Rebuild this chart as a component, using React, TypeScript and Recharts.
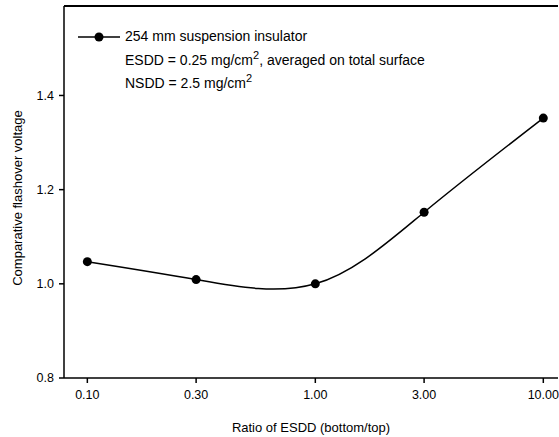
import { LineChart, Line, XAxis, YAxis, ReferenceLine } from 'recharts'

const ratios = [0.1, 0.3, 1, 3, 10]
const voltages = [1.047, 1.009, 1.0, 1.152, 1.352]
const xTicks = [0.1, 0.3, 1, 3, 10]
const yTicks = [0.8, 1.0, 1.2, 1.4]

const data = ratios.map((r, i) => ({ ratio: r, v: voltages[i] }))

const font = '"Liberation Sans", Arial, sans-serif'
const xDomain = [0.079, 11.6]
const yDomain = [0.8, 1.59]

function LegendBox() {
  return (
    <div style={{ position: 'absolute', left: 78, top: 25, fontFamily: font, fontSize: 14, color: '#000', lineHeight: '23.5px', whiteSpace: 'nowrap' }}>
      <div style={{ display: 'flex', alignItems: 'center' }}>
        <svg width={42} height={10} style={{ marginRight: 5 }}>
          <line x1={0} y1={5} x2={42} y2={5} stroke="#000" strokeWidth={1.5} />
          <circle cx={21} cy={5} r={4.5} fill="#000" />
        </svg>
        <span>254 mm suspension insulator</span>
      </div>
      <div style={{ paddingLeft: 47 }}>
        ESDD = 0.25 mg/cm<sup style={{ fontSize: 11, lineHeight: 0 }}>2</sup>, averaged on total surface
      </div>
      <div style={{ paddingLeft: 47 }}>
        NSDD = 2.5 mg/cm<sup style={{ fontSize: 11, lineHeight: 0 }}>2</sup>
      </div>
    </div>
  )
}

export default function App() {
  return (
    <div style={{ position: 'absolute', left: 0, top: 0, width: 559, height: 437, background: '#fff' }}>
      <LineChart width={559} height={437} data={data} margin={{ top: 6, right: 1, bottom: 0, left: 0 }}>
        <XAxis
          dataKey="ratio"
          type="number"
          scale="log"
          domain={xDomain}
          allowDataOverflow
          ticks={xTicks}
          tickFormatter={(t: number) => t.toFixed(2)}
          height={59}
          tickSize={5}
          tickMargin={7}
          stroke="#000"
          strokeWidth={1.5}
          tick={{ fill: '#000', fontFamily: font, fontSize: 12.5 }}
          label={{ value: 'Ratio of ESDD (bottom/top)', position: 'insideBottom', offset: 5, fill: '#000', fontFamily: font, fontSize: 13 }}
        />
        <YAxis
          type="number"
          domain={yDomain}
          allowDataOverflow
          ticks={yTicks}
          tickFormatter={(t: number) => t.toFixed(1)}
          width={64}
          tickSize={5}
          tickMargin={5}
          stroke="#000"
          strokeWidth={1.5}
          tick={{ fill: '#000', fontFamily: font, fontSize: 12.5 }}
          label={(props: any) => {
            const vb = props.viewBox
            const cy = vb.y + vb.height / 2 + 6
            return (
              <text x={22} y={cy} transform={`rotate(-90 22 ${cy})`} textAnchor="middle" fontFamily={font} fontSize={13} fill="#000">
                Comparative flashover voltage
              </text>
            )
          }}
        />
        <ReferenceLine y={yDomain[1]} stroke="#000" strokeWidth={2} ifOverflow="extendDomain" />
        <Line
          dataKey="v"
          type="natural"
          stroke="#000"
          strokeWidth={1.5}
          dot={{ r: 4.5, fill: '#000', stroke: '#000', strokeWidth: 0 }}
          isAnimationActive={false}
        />
      </LineChart>
      <LegendBox />
    </div>
  )
}
